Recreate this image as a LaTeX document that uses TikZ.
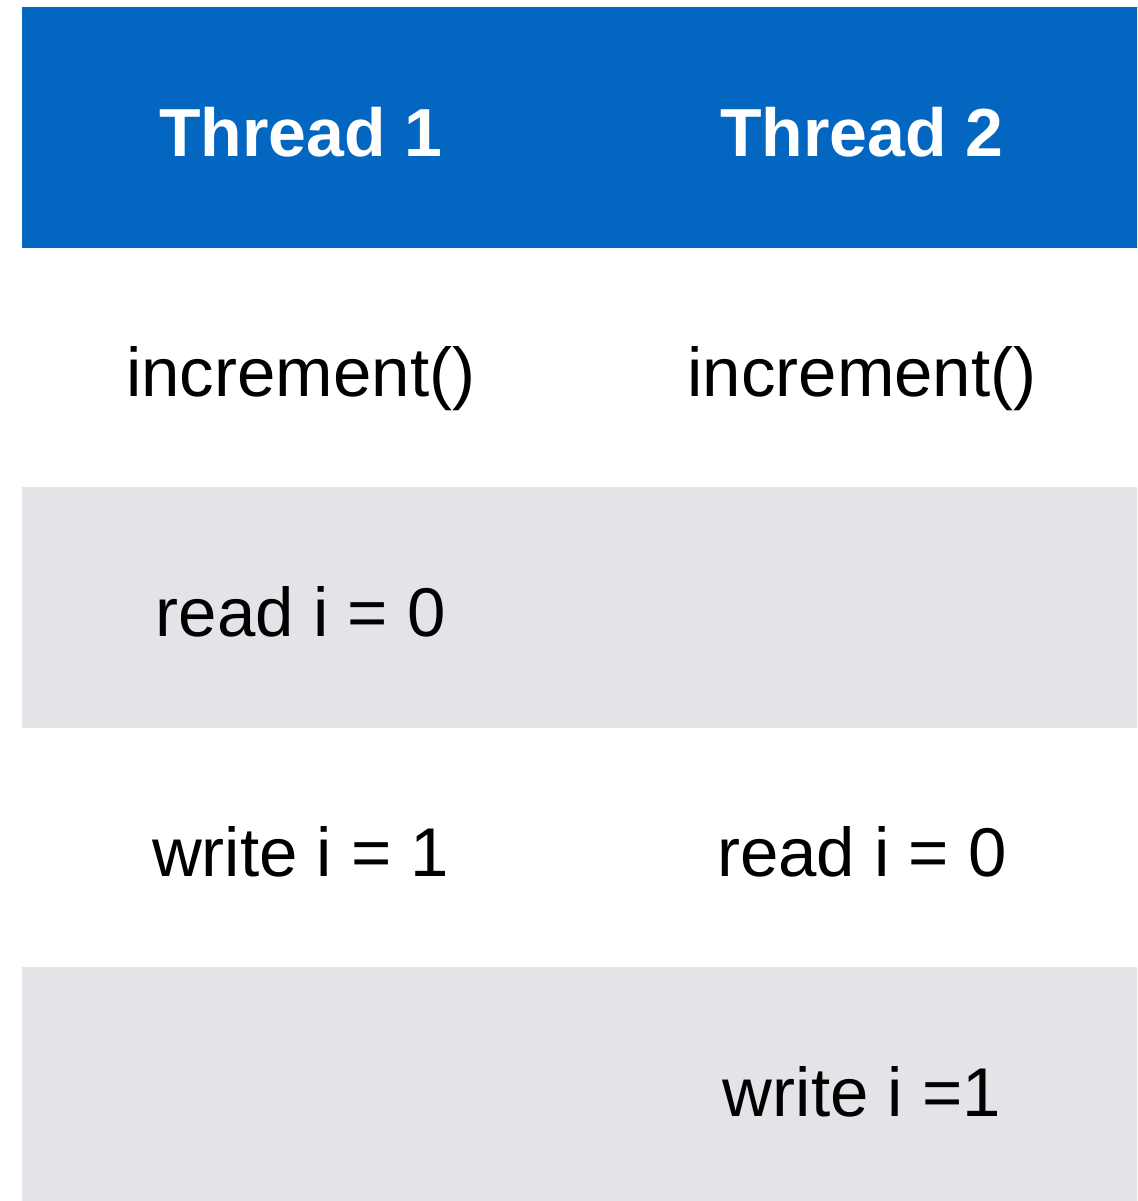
\documentclass[tikz,border=0pt]{standalone}
\usepackage{fontspec}
\setmainfont{Liberation Sans}
\definecolor{headblue}{RGB}{3,102,192}
\definecolor{rowgray}{RGB}{227,228,232}

\begin{document}
\begin{tikzpicture}[
        x=1pt,y=-1pt,
        cell/.style={rectangle,minimum width=557.5pt,minimum height=240pt,inner sep=0pt,
                     text height=58pt,text depth=0pt,font=\fontsize{69}{80}\selectfont},
        right col/.style={minimum width=565pt},
        head/.style={cell,fill=headblue,draw=headblue,line width=0.4pt,text=white,
                     font=\fontsize{68}{80}\selectfont\bfseries},
        grayrow/.style={cell,fill=rowgray,draw=rowgray,line width=0.4pt},
    ]
    \useasboundingbox (0,0) rectangle (1137,1201);
    \clip (0,0) rectangle (1137,1201);
    % header
    \node[head] (h1) at (300.75,127.5) {Thread 1};
    \node[head,right col] (h2) at (862,127.5) {Thread 2};
    % rows
    \node[cell] (a1) at (300.75,367.5) {increment()};
    \node[cell,right col] (a2) at (862,367.5) {increment()};
    \node[grayrow] (b1) at (300.75,607.5) {read i = 0};
    \node[grayrow,right col] (b2) at (862,607.5) {};
    \node[cell] (c1) at (300.75,847.5) {write i = 1};
    \node[cell,right col] (c2) at (862,847.5) {read i = 0};
    \node[grayrow] (d1) at (300.75,1087.5) {};
    \node[grayrow,right col] (d2) at (862,1087.5) {write i =1};
\end{tikzpicture}
\end{document}
